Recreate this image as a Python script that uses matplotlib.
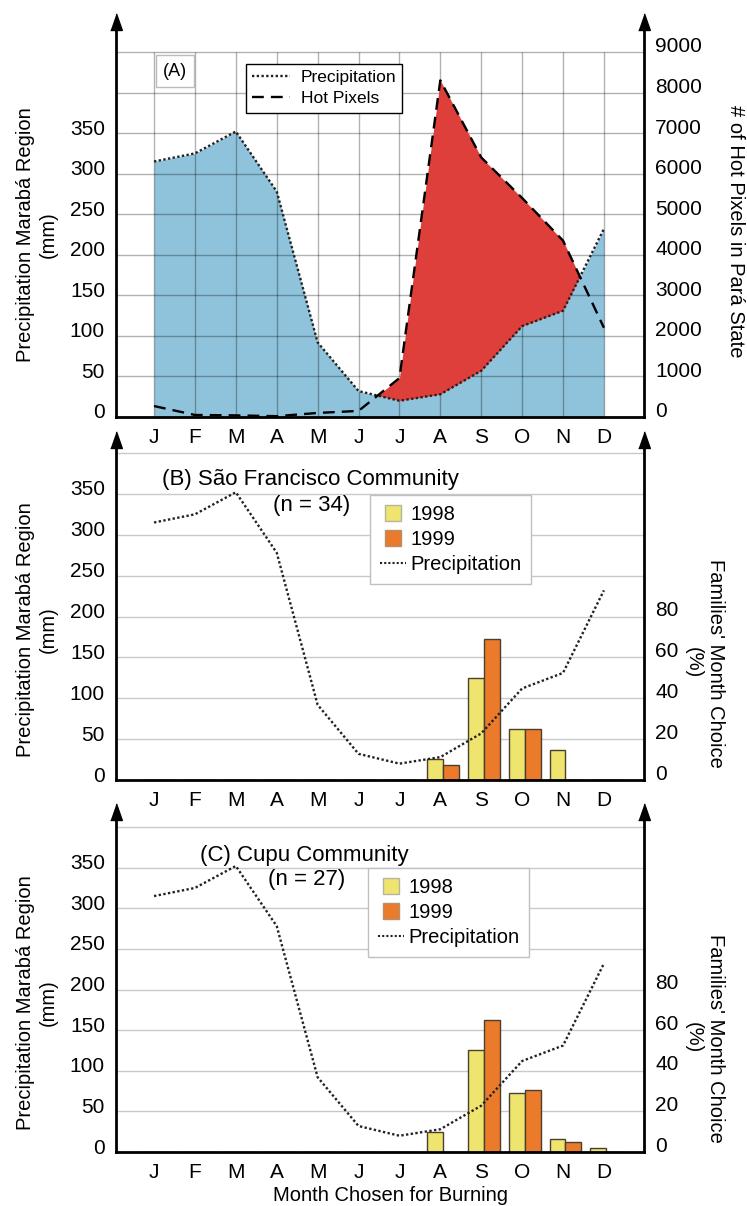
import numpy as np
import matplotlib
matplotlib.use('Agg')
import matplotlib.pyplot as plt
from matplotlib.lines import Line2D
from matplotlib.transforms import ScaledTranslation

plt.rcParams['font.family'] = ['Liberation Sans', 'DejaVu Sans']

# ----------------------------------------------------------- data
months = ['J', 'F', 'M', 'A', 'M', 'J', 'J', 'A', 'S', 'O', 'N', 'D']
precip = [315, 325, 352, 278, 92, 32, 20, 28, 57, 112, 131, 232]  # mm
hot_pixels = [270, 50, 40, 20, 100, 150, 960, 8300, 6400, 5400, 4350, 2200]
sf_1998 = [0, 0, 0, 0, 0, 0, 0, 10.5, 50, 25, 14.5, 0]  # % families
sf_1999 = [0, 0, 0, 0, 0, 0, 0, 7.5, 69, 25, 0, 0]
cupu_1998 = [0, 0, 0, 0, 0, 0, 0, 10, 50, 29, 6.5, 2]
cupu_1999 = [0, 0, 0, 0, 0, 0, 0, 0, 65, 30.5, 5, 0]

MM_PER_HP = 1 / 20.   # 9000 hot pixels <-> 450 mm
MM_PER_PCT = 2.5      # 20 % <-> 50 mm

W, H = 747, 1206
fig = plt.figure(figsize=(W / 100, H / 100), dpi=100)

x = np.arange(len(months))
arrow = [(-0.35, 0), (0.35, 0), (0, 1)]
TICK_FS = 15


def px_axes(left, right, top, bottom):
    return fig.add_axes([left / W, 1 - bottom / H,
                         (right - left) / W, (bottom - top) / H])


def frame(ax, ymax):
    ax.set_xlim(-0.93, 11.98)
    ax.set_ylim(0, ymax)
    ax.spines['top'].set_visible(False)
    for s in ['left', 'right', 'bottom']:
        ax.spines[s].set_linewidth(2)
        ax.spines[s].set_zorder(5)
    for xa in (0, 1):  # arrow heads on the vertical axes
        ax.plot([xa], [1], marker=arrow, markersize=24, color='k',
                transform=ax.transAxes, clip_on=False, zorder=10)
    ax.set_xticks(x)
    ax.set_xticklabels(months)
    ax.tick_params(length=0, labelsize=TICK_FS)
    ax.tick_params(axis='x', pad=8)
    ax.tick_params(axis='y', pad=8)
    ax.set_yticks(range(0, 351, 50))
    up = ScaledTranslation(0, 6 / 100, fig.dpi_scale_trans)
    for lab in ax.get_yticklabels():
        lab.set_transform(lab.get_transform() + up)


def sec_axis(ax, factor, ticks, shift):
    sec = ax.secondary_yaxis('right', functions=(lambda v: v / factor,
                                                 lambda v: v * factor))
    sec.set_yticks(ticks)
    sec.spines['right'].set_visible(False)
    sec.tick_params(length=0, labelsize=TICK_FS, pad=8)
    up = ScaledTranslation(0, shift / 100, fig.dpi_scale_trans)
    for lab in sec.get_yticklabels():
        lab.set_transform(lab.get_transform() + up)
    return sec


# ================================================= (A) hot pixels
axA = px_axes(116, 644, 30, 417)
frame(axA, 450 * 387 / 365)
sec_axis(axA, MM_PER_HP, range(0, 9001, 1000), 7)

hp_mm = np.array(hot_pixels) * MM_PER_HP
pr = np.array(precip)
axA.fill_between(x, 0, pr, color='#8ec3db', lw=0, zorder=1)
axA.vlines(x, 0, 450, colors='k', alpha=0.3, lw=1, zorder=1.5)
for yv in range(50, 451, 50):
    axA.axhline(yv, color='k', alpha=0.3, lw=1, zorder=1.5)
axA.fill_between(x, pr, hp_mm, where=hp_mm > pr, interpolate=True,
                 color='#df3f3a', lw=0, zorder=2)
axA.plot(x, pr, color='#222222', ls=(0, (1, 1)), lw=1.7, zorder=3,
         label='Precipitation')
axA.plot(x, hp_mm, color='k', ls=(0, (5, 3)), lw=1.7, zorder=3,
         label='Hot Pixels')
legA = axA.legend(loc='upper left', bbox_to_anchor=(246 / W, 1 - 64 / H),
                  bbox_transform=fig.transFigure, borderaxespad=0,
                  fontsize=12.5, handlelength=2.2, handletextpad=0.6,
                  borderpad=0.35, labelspacing=0.35, fancybox=False,
                  framealpha=1, edgecolor='k')
legA.get_frame().set_linewidth(1)
fig.text(175 / W, 1 - 71 / H, '(A)', fontsize=13, ha='center',
         va='center', bbox=dict(boxstyle='square,pad=0.4', fc='white',
                                ec='#bbbbbb', lw=1))
fig.text(37 / W, 1 - 235 / H, 'Precipitation Marabá Region\n(mm)',
         rotation=90, ha='center', va='center', fontsize=14.5,
         linespacing=1.2)
fig.text(735 / W, 1 - 231 / H, '# of Hot Pixels in Pará State',
         rotation=270, ha='center', va='center', fontsize=14.5)

# ============================================ (B), (C) communities
panels = [
    dict(top=448, bottom=780, grid_top=453, y98=sf_1998, y99=sf_1999,
         title='(B) São Francisco Community', tx=162, ty=480,
         ntext='(n = 34)', nx=312, ny=505, leg=(370, 495),
         ly=630, ry=663),
    dict(top=820, bottom=1152, grid_top=827, y98=cupu_1998, y99=cupu_1999,
         title='(C) Cupu Community', tx=200, ty=855,
         ntext='(n = 27)', nx=307, ny=880, leg=(368, 868),
         ly=1003, ry=1038),
]

for p in panels:
    ax = px_axes(116, 644, p['top'], p['bottom'])
    frame(ax, 400 * (p['bottom'] - p['top']) / (p['bottom'] - p['grid_top']))
    sec_axis(ax, MM_PER_PCT, range(0, 81, 20), 8)
    for yv in range(50, 401, 50):
        ax.axhline(yv, color='#c9c9c9', lw=1, zorder=0.5)
    ax.bar(x - 0.135, np.array(p['y98']) * MM_PER_PCT, width=0.39,
           color='#eee46e', edgecolor='#4a4030', lw=1, zorder=2)
    ax.bar(x + 0.255, np.array(p['y99']) * MM_PER_PCT, width=0.39,
           color='#eb7a2b', edgecolor='#4a4030', lw=1, zorder=2)
    ax.plot(x, precip, color='#222222', ls=(0, (1, 1)), lw=1.7, zorder=3)

    handles = [
        Line2D([], [], ls='none', marker='s', markersize=12,
               mfc='#eee46e', mec='#b5b5a0', label='1998'),
        Line2D([], [], ls='none', marker='s', markersize=12,
               mfc='#eb7a2b', mec='#b59070', label='1999'),
        Line2D([], [], color='#222222', ls=(0, (1, 1)), lw=1.5,
               label='Precipitation'),
    ]
    leg = ax.legend(handles=handles, loc='upper left',
                    bbox_to_anchor=(p['leg'][0] / W, 1 - p['leg'][1] / H),
                    bbox_transform=fig.transFigure, borderaxespad=0,
                    fontsize=14.5, handlelength=1.3, handletextpad=0.2,
                    borderpad=0.5, labelspacing=0.3, fancybox=False,
                    framealpha=1, edgecolor='#c0c0c0')
    leg.get_frame().set_linewidth(1)

    fig.text(p['tx'] / W, 1 - p['ty'] / H, p['title'], fontsize=16,
             ha='left', va='center')
    fig.text(p['nx'] / W, 1 - p['ny'] / H, p['ntext'], fontsize=16,
             ha='center', va='center')
    fig.text(37 / W, 1 - p['ly'] / H, 'Precipitation Marabá Region\n(mm)',
             rotation=90, ha='center', va='center', fontsize=14.5,
             linespacing=1.2)
    fig.text(704 / W, 1 - p['ry'] / H, "Families' Month Choice\n(%)",
             rotation=270, ha='center', va='center', fontsize=14.5,
             linespacing=1.2)

fig.text(391 / W, 1 - 1201 / H, 'Month Chosen for Burning', fontsize=14.5,
         ha='center', va='baseline')

fig.savefig('out.png', dpi=100)
